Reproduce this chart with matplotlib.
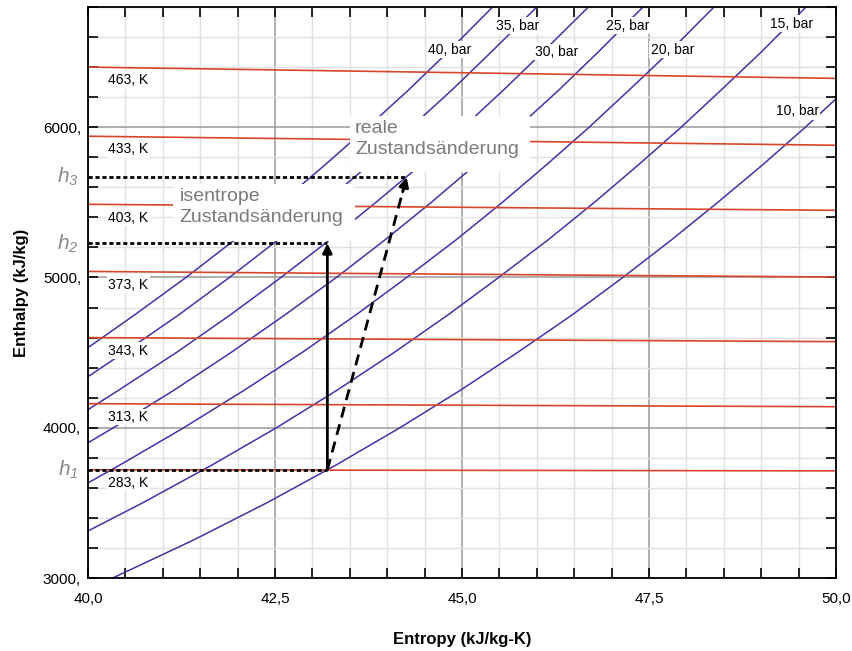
"""h-s chart (hydrogen): isobars, isotherms and a compression 1 -> 2 (isentropic) / 1 -> 3 (real)."""
import matplotlib
matplotlib.use("Agg")
import matplotlib.pyplot as plt
from matplotlib.patches import Rectangle
from matplotlib.ticker import MultipleLocator, FuncFormatter
from matplotlib.transforms import blended_transform_factory

plt.rcParams["font.family"] = ["Liberation Sans", "DejaVu Sans"]
plt.rcParams["mathtext.fontset"] = "custom"
plt.rcParams["mathtext.it"] = "Liberation Sans:italic"
plt.rcParams["mathtext.rm"] = "Liberation Sans:italic"

# --- isobars, (s, h) points ---
pressures_bar = [10, 15, 20, 25, 30, 35, 40]
s_p10 = [40.33, 41.40, 42.39, 43.31, 44.17, 44.98, 45.74, 46.47, 47.15, 47.80,
         48.42, 49.02, 49.59, 50.00]
h_p10 = [3000, 3250, 3500, 3750, 4000, 4250, 4500, 4750, 5000, 5250,
         5500, 5750, 6000, 6189]
s_p15 = [40.00, 40.73, 41.65, 42.52, 43.33, 44.09, 44.81, 45.49, 46.15, 46.77,
         47.36, 47.93, 48.47, 49.00, 49.60]
h_p15 = [3313, 3500, 3750, 4000, 4250, 4500, 4750, 5000, 5250, 5500,
         5750, 6000, 6250, 6500, 6800]
s_p20 = [40.00, 40.42, 41.28, 42.09, 42.86, 43.58, 44.26, 44.92, 45.54, 46.13,
         46.70, 47.24, 47.77, 48.37]
h_p20 = [3633, 3750, 4000, 4250, 4500, 4750, 5000, 5250, 5500, 5750,
         6000, 6250, 6500, 6800]
s_p25 = [40.00, 40.34, 41.15, 41.91, 42.63, 43.32, 43.97, 44.59, 45.18, 45.75,
         46.30, 46.82, 47.42]
h_p25 = [3900, 4000, 4250, 4500, 4750, 5000, 5250, 5500, 5750, 6000,
         6250, 6500, 6800]
s_p30 = [40.00, 40.41, 41.18, 41.90, 42.58, 43.23, 43.85, 44.45, 45.02, 45.56,
         46.08, 46.69]
h_p30 = [4120, 4250, 4500, 4750, 5000, 5250, 5500, 5750, 6000, 6250,
         6500, 6800]
s_p35 = [40.00, 40.48, 41.21, 41.89, 42.54, 43.16, 43.76, 44.32, 44.87, 45.39,
         46.00]
h_p35 = [4340, 4500, 4750, 5000, 5250, 5500, 5750, 6000, 6250, 6500, 6800]
s_p40 = [40.00, 40.62, 41.31, 41.96, 42.58, 43.17, 43.74, 44.29, 44.81, 45.41]
h_p40 = [4533, 4750, 5000, 5250, 5500, 5750, 6000, 6250, 6500, 6800]
isobar_label_s = [49.48, 49.41, 47.81, 47.21, 46.26, 45.75, 44.84]
isobar_label_h = [6105, 6690, 6515, 6675, 6500, 6675, 6515]

# --- isotherms (h at s=40 and s=50) ---
temps_K = [283, 313, 343, 373, 403, 433, 463]
iso_s = [40.0, 50.0]
h_T_left = [3720, 4160, 4600, 5040, 5487, 5940, 6400]
h_T_right = [3713, 4140, 4573, 5003, 5447, 5880, 6325]

# --- process states 1, 2 (isentropic), 3 (real) ---
s_state = [43.2, 43.2, 44.26]
h_state = [3720, 5227, 5667]

PURPLE = "#4a2fa6"
RED = "#d8452a"

fig = plt.figure(figsize=(8.53, 6.51), dpi=100)
ax = fig.add_axes([88 / 853, 73 / 651, 748 / 853, 571 / 651])

isobars = [(s_p10, h_p10), (s_p15, h_p15), (s_p20, h_p20), (s_p25, h_p25),
           (s_p30, h_p30), (s_p35, h_p35), (s_p40, h_p40)]
for (s, h), p, ls, lh in zip(isobars, pressures_bar, isobar_label_s, isobar_label_h):
    ax.plot(s, h, color=PURPLE, lw=1.1, zorder=2)
    ax.text(ls, lh, f"{p}, bar", fontsize=10, ha="center", va="center", zorder=3,
            bbox=dict(fc="white", ec="none", pad=1.0))

for T, hl, hr in zip(temps_K, h_T_left, h_T_right):
    ax.plot(iso_s, [hl, hr], color=RED, lw=1.2, zorder=2)
    ax.text(40.27, hl - 88, f"{T}, K", fontsize=10, ha="left", va="center", zorder=3,
            bbox=dict(fc="white", ec="none", pad=1.0))

# callout boxes hide lines and grid underneath
ax.add_patch(Rectangle((41.14, 5245), 2.43, 375, fc="white", ec="none", zorder=3))
ax.text(41.22, 5595, "isentrope\nZustandsänderung", fontsize=14, color="#7a7a7a",
        ha="left", va="top", linespacing=1.3, zorder=4)
ax.add_patch(Rectangle((43.50, 5700), 2.41, 373, fc="white", ec="none", zorder=3))
ax.text(43.57, 6050, "reale\nZustandsänderung", fontsize=14, color="#7a7a7a",
        ha="left", va="top", linespacing=1.35, zorder=4)

# dotted enthalpy levels
for s, h in zip(s_state, h_state):
    ax.plot([40.0, s], [h, h], color="k", lw=2, ls=(0, (1.5, 1.0)), zorder=5)

# isentropic path 1 -> 2
ax.annotate("", xy=(s_state[1], h_state[1]), xytext=(s_state[0], h_state[0]),
            arrowprops=dict(arrowstyle="-|>", color="k", lw=2, mutation_scale=14,
                            shrinkA=0, shrinkB=0), zorder=6)
# real path 1 -> 3
ax.plot([s_state[0], s_state[2]], [h_state[0], h_state[2]], color="k", lw=2,
        ls=(0, (4, 2.5)), zorder=6)
f = 0.95
ax.annotate("", xy=(s_state[2], h_state[2]),
            xytext=(s_state[0] + f * (s_state[2] - s_state[0]),
                    h_state[0] + f * (h_state[2] - h_state[0])),
            arrowprops=dict(arrowstyle="-|>", color="k", lw=2, mutation_scale=14,
                            shrinkA=0, shrinkB=0), zorder=6)

trans = blended_transform_factory(ax.transAxes, ax.transData)
for i, h in enumerate(h_state):
    ax.text(-0.013, h, rf"$h_{i + 1}$", transform=trans, ha="right", va="center",
            color="#8a8a8a", fontsize=15)

ax.set_xlim(40, 50)
ax.set_ylim(3000, 6800)
ax.xaxis.set_major_locator(MultipleLocator(2.5))
ax.xaxis.set_minor_locator(MultipleLocator(0.5))
ax.yaxis.set_major_locator(MultipleLocator(1000))
ax.yaxis.set_minor_locator(MultipleLocator(200))
ax.xaxis.set_major_formatter(FuncFormatter(lambda v, _: f"{v:.1f}".replace(".", ",")))
ax.yaxis.set_major_formatter(FuncFormatter(lambda v, _: f"{int(v)},"))
ax.tick_params(which="both", direction="in", top=True, right=True, length=7,
               width=1.2, labelsize=11, pad=5)
ax.tick_params(axis="x", which="both", pad=10)
ax.set_axisbelow(True)
ax.grid(which="minor", color="#e0e0e0", lw=1.0)
ax.grid(which="major", color="#9a9a9a", lw=1.1)
for sp in ax.spines.values():
    sp.set_linewidth(1.3)

ax.set_xlabel("Entropy (kJ/kg-K)", fontsize=12, fontweight="bold", labelpad=19)
ax.set_ylabel("Enthalpy (kJ/kg)", fontsize=12, fontweight="bold", labelpad=10)

fig.savefig("out.png", dpi=100)
